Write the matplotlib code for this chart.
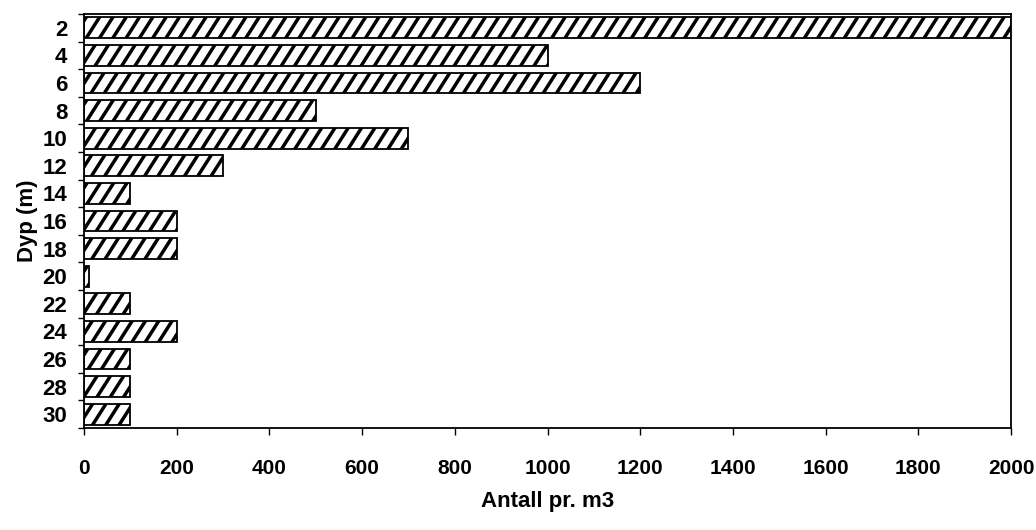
import numpy as np
import matplotlib as mpl
import matplotlib.pyplot as plt
from matplotlib.collections import LineCollection
from matplotlib.transforms import IdentityTransform

# data
dyp = [2, 4, 6, 8, 10, 12, 14, 16, 18, 20, 22, 24, 26, 28, 30]
antall = [2000, 1000, 1200, 500, 700, 300, 100, 200, 200, 10, 100, 200, 100, 100, 100]
xticks = list(range(0, 2001, 200))

mpl.rcParams['font.family'] = ['Liberation Sans', 'DejaVu Sans']
mpl.rcParams['font.weight'] = 'bold'

fig = plt.figure(figsize=(10.36, 5.30), dpi=100)
ax = fig.add_axes([0.081, 0.1925, 0.895, 0.781])

pos = np.arange(len(dyp))
bars = ax.barh(pos, antall, height=0.75, color='white', edgecolor='black',
               linewidth=1.3, zorder=2)

# steep diagonal stripes (pixel space), clipped to each bar
slope = 1.57
segs = [[(x0, 0), (x0 + 530 / slope, 530)] for x0 in np.arange(-400, 1100, 13.3)]
for b in bars:
    lc = LineCollection(segs, colors='black', linewidths=2.5,
                        transform=IdentityTransform(), zorder=3)
    ax.add_collection(lc, autolim=False)
    lc.set_clip_path(b)

ax.set_xlim(0, 2000)
ax.set_ylim(len(dyp) - 0.5, -0.5)
ax.set_xticks(xticks)
ax.set_xticklabels([str(t) for t in xticks], fontsize=15, fontweight='bold')
ax.set_yticks(pos)
ax.set_yticklabels([str(d) for d in dyp], fontsize=16, fontweight='bold')
ax.set_yticks(np.arange(len(dyp) + 1) - 0.5, minor=True)
ax.tick_params(axis='y', which='major', length=0, pad=12)
ax.tick_params(axis='y', which='minor', length=4, width=1, direction='out')
ax.tick_params(axis='x', length=5, width=1, direction='out', pad=17)

for s in ax.spines.values():
    s.set_linewidth(1.3)

ax.set_xlabel('Antall pr. m3', fontsize=16, fontweight='bold', labelpad=10)
ax.set_ylabel('Dyp (m)', fontsize=16, fontweight='bold', labelpad=3)

fig.savefig('out.png', dpi=100)
